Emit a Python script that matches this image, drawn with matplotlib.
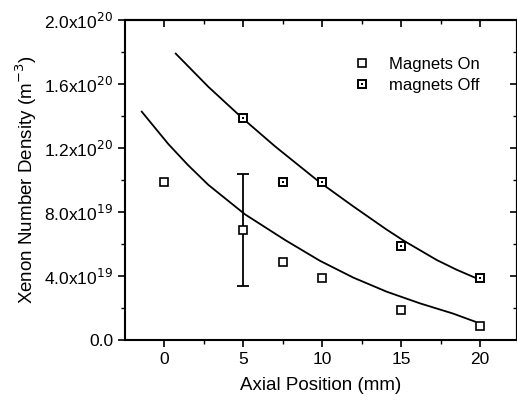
import matplotlib
matplotlib.use("Agg")
import matplotlib.pyplot as plt
import numpy as np
from matplotlib.ticker import MultipleLocator, FuncFormatter
from matplotlib.legend_handler import HandlerTuple

plt.rcParams['font.family'] = ['Liberation Sans', 'DejaVu Sans']

# measured points (units of 1e20 m^-3)
x_on = [0, 5, 7.5, 10, 15, 20]
y_on = [0.99, 0.69, 0.49, 0.39, 0.19, 0.085]
err_x = [5]
err_y = [0.69]
err_lo = [0.35]
err_hi = [0.35]

x_off = [5, 7.5, 10, 15, 20]
y_off = [1.39, 0.99, 0.99, 0.59, 0.39]

# fit curves
fit_on_x = [-1.41, 0.27, 1.5, 2.8, 5.13, 7.66, 9.87, 11.98, 14.09, 16.2, 18.3, 19.68]
fit_on_y = [1.427, 1.225, 1.095, 0.97, 0.785, 0.625, 0.495, 0.39, 0.302, 0.229, 0.165, 0.115]

fit_off_x = [0.74, 2.8, 4.92, 7.03, 9.8, 11.98, 14.09, 15.15, 17.26, 18.5, 19.79]
fit_off_y = [1.79, 1.583, 1.39, 1.21, 0.99, 0.835, 0.69, 0.622, 0.5, 0.44, 0.385]

scale = 1e20

fig = plt.figure(figsize=(5.17, 4.07), dpi=100)
ax = fig.add_axes([125 / 517, 67 / 407, 392 / 517, 320 / 407])

ax.plot(np.array(fit_on_x), np.array(fit_on_y) * scale, color='black', lw=1.3)
ax.plot(np.array(fit_off_x), np.array(fit_off_y) * scale, color='black', lw=1.3)

ax.errorbar(err_x, np.array(err_y) * scale,
            yerr=[np.array(err_lo) * scale, np.array(err_hi) * scale],
            fmt='none', ecolor='black', elinewidth=1.3, capsize=4, capthick=1.3)

h_on, = ax.plot(x_on, np.array(y_on) * scale, linestyle='none', marker='s', ms=6,
                mfc='white', mec='black', mew=1.2)
h_off, = ax.plot(x_off, np.array(y_off) * scale, linestyle='none', marker='s', ms=6,
                 mfc='white', mec='black', mew=1.4)
h_dot, = ax.plot(x_off, np.array(y_off) * scale, linestyle='none', marker='s', ms=1.8,
                 mfc='black', mec='black', mew=0)

ax.set_xlim(-2.47, 22.34)
ax.set_ylim(0, 2.0e20)

ax.xaxis.set_major_locator(MultipleLocator(5))
ax.xaxis.set_minor_locator(MultipleLocator(2.5))
ax.yaxis.set_major_locator(MultipleLocator(0.4e20))
ax.yaxis.set_minor_locator(MultipleLocator(0.2e20))


def yfmt(v, pos):
    if abs(v) < 1e10:
        return '0.0'
    e = int(np.floor(np.log10(abs(v)) + 1e-9))
    m = v / 10 ** e
    return r'%.1fx10$^{%d}$' % (m, e)


ax.yaxis.set_major_formatter(FuncFormatter(yfmt))

ax.tick_params(axis='both', which='major', direction='out', length=5, width=1.2,
               labelsize=12.5)
ax.tick_params(axis='both', which='minor', direction='out', length=3, width=1.0)

# top and right: ticks pointing in, no labels
top = ax.secondary_xaxis('top')
top.xaxis.set_major_locator(MultipleLocator(5))
top.xaxis.set_minor_locator(MultipleLocator(2.5))
top.tick_params(which='major', direction='in', length=5, width=1.2, labeltop=False)
top.tick_params(which='minor', direction='in', length=3, width=1.0)
right = ax.secondary_yaxis('right')
right.yaxis.set_major_locator(MultipleLocator(0.4e20))
right.yaxis.set_minor_locator(MultipleLocator(0.2e20))
right.tick_params(which='major', direction='in', length=5, width=1.2, labelright=False)
right.tick_params(which='minor', direction='in', length=3, width=1.0)

for s in ax.spines.values():
    s.set_linewidth(1.5)
top.spines['top'].set_linewidth(1.5)
right.spines['right'].set_linewidth(1.5)

ax.set_xlabel('Axial Position (mm)', fontsize=13.5, labelpad=7)
ax.set_ylabel('Xenon Number Density (m$^{-3}$)', fontsize=13.5, labelpad=4)

ax.legend([h_on, (h_off, h_dot)], ['Magnets On', 'magnets Off'],
          handler_map={tuple: HandlerTuple(ndivide=1, pad=0)},
          loc='upper left', bbox_to_anchor=(0.584, 0.885), frameon=False,
          fontsize=12, handlelength=1.0, handletextpad=1.1, labelspacing=0.35,
          borderaxespad=0, borderpad=0)

fig.savefig('out.png', dpi=100)
